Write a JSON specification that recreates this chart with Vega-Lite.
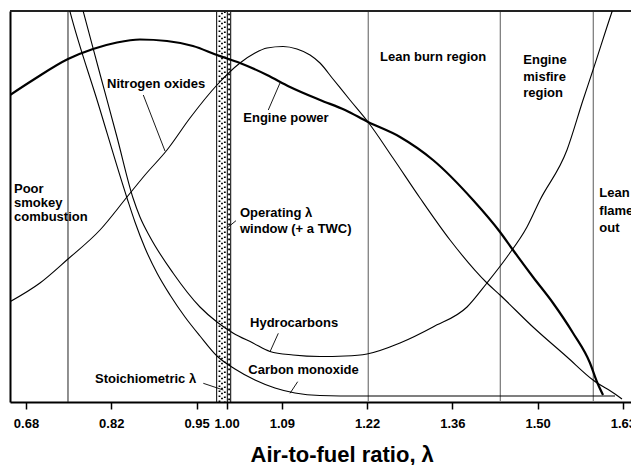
{
  "$schema": "https://vega.github.io/schema/vega-lite/v6.json",
  "width": 621,
  "height": 391,
  "autosize": {"type": "none"},
  "padding": {"left": 10, "top": 11, "right": 0, "bottom": 63},
  "background": "white",
  "config": {
    "view": {"stroke": null},
    "font": "Liberation Sans",
    "text": {"font": "Liberation Sans", "fontWeight": "bold", "fontSize": 13, "align": "left", "baseline": "middle", "color": "#000"}
  },
  "datasets": {
    "curves": [
      {"series": "power", "x": 0.6545, "y": 307}, {"series": "power", "x": 0.6912, "y": 322}, {"series": "power", "x": 0.7470, "y": 343}, {"series": "power", "x": 0.7869, "y": 353}, {"series": "power", "x": 0.8251, "y": 359.5}, {"series": "power", "x": 0.8618, "y": 362.5}, {"series": "power", "x": 0.9049, "y": 361}, {"series": "power", "x": 0.9463, "y": 356}, {"series": "power", "x": 0.9846, "y": 347}, {"series": "power", "x": 1.0213, "y": 339}, {"series": "power", "x": 1.0644, "y": 327}, {"series": "power", "x": 1.1011, "y": 315}, {"series": "power", "x": 1.1489, "y": 302}, {"series": "power", "x": 1.1888, "y": 292}, {"series": "power", "x": 1.2255, "y": 280}, {"series": "power", "x": 1.2765, "y": 265}, {"series": "power", "x": 1.3291, "y": 242}, {"series": "power", "x": 1.3929, "y": 202}, {"series": "power", "x": 1.4360, "y": 170}, {"series": "power", "x": 1.4567, "y": 152}, {"series": "power", "x": 1.4886, "y": 125}, {"series": "power", "x": 1.5205, "y": 99}, {"series": "power", "x": 1.5524, "y": 69}, {"series": "power", "x": 1.5795, "y": 39}, {"series": "power", "x": 1.5907, "y": 20}, {"series": "power", "x": 1.6003, "y": 7},
      {"series": "nox", "x": 0.6545, "y": 100.3}, {"series": "nox", "x": 0.7023, "y": 119}, {"series": "nox", "x": 0.7470, "y": 143}, {"series": "nox", "x": 0.7980, "y": 172}, {"series": "nox", "x": 0.8411, "y": 205}, {"series": "nox", "x": 0.8698, "y": 227}, {"series": "nox", "x": 0.9049, "y": 252}, {"series": "nox", "x": 0.9416, "y": 284}, {"series": "nox", "x": 0.9846, "y": 317}, {"series": "nox", "x": 1.0213, "y": 339}, {"series": "nox", "x": 1.0452, "y": 349}, {"series": "nox", "x": 1.0644, "y": 354}, {"series": "nox", "x": 1.0899, "y": 355.5}, {"series": "nox", "x": 1.1122, "y": 353}, {"series": "nox", "x": 1.1330, "y": 347}, {"series": "nox", "x": 1.1489, "y": 339}, {"series": "nox", "x": 1.1696, "y": 323}, {"series": "nox", "x": 1.1967, "y": 302}, {"series": "nox", "x": 1.2255, "y": 280}, {"series": "nox", "x": 1.2653, "y": 244}, {"series": "nox", "x": 1.3084, "y": 204}, {"series": "nox", "x": 1.3563, "y": 162}, {"series": "nox", "x": 1.4152, "y": 119}, {"series": "nox", "x": 1.4360, "y": 107}, {"series": "nox", "x": 1.4886, "y": 75}, {"series": "nox", "x": 1.5429, "y": 45}, {"series": "nox", "x": 1.5843, "y": 22}, {"series": "nox", "x": 1.6194, "y": 8}, {"series": "nox", "x": 1.6305, "y": 3},
      {"series": "hc", "x": 0.7629, "y": 410}, {"series": "hc", "x": 0.7714, "y": 390.3}, {"series": "hc", "x": 0.7980, "y": 328}, {"series": "hc", "x": 0.8251, "y": 265}, {"series": "hc", "x": 0.8507, "y": 204}, {"series": "hc", "x": 0.8618, "y": 185}, {"series": "hc", "x": 0.8778, "y": 165}, {"series": "hc", "x": 0.9145, "y": 129}, {"series": "hc", "x": 0.9575, "y": 95}, {"series": "hc", "x": 0.9846, "y": 80}, {"series": "hc", "x": 1.0101, "y": 69}, {"series": "hc", "x": 1.0420, "y": 59}, {"series": "hc", "x": 1.0692, "y": 50.5}, {"series": "hc", "x": 1.1058, "y": 47}, {"series": "hc", "x": 1.1489, "y": 45.5}, {"series": "hc", "x": 1.1888, "y": 46}, {"series": "hc", "x": 1.2239, "y": 48}, {"series": "hc", "x": 1.2765, "y": 59}, {"series": "hc", "x": 1.3291, "y": 75}, {"series": "hc", "x": 1.3834, "y": 95}, {"series": "hc", "x": 1.4152, "y": 119}, {"series": "hc", "x": 1.4471, "y": 145}, {"series": "hc", "x": 1.4790, "y": 175}, {"series": "hc", "x": 1.4998, "y": 202}, {"series": "hc", "x": 1.5428, "y": 252}, {"series": "hc", "x": 1.5684, "y": 302}, {"series": "hc", "x": 1.5843, "y": 332}, {"series": "hc", "x": 1.6146, "y": 390.3}, {"series": "hc", "x": 1.6210, "y": 402},
      {"series": "co", "x": 0.7422, "y": 410}, {"series": "co", "x": 0.7502, "y": 390.3}, {"series": "co", "x": 0.7948, "y": 299}, {"series": "co", "x": 0.8411, "y": 204}, {"series": "co", "x": 0.8538, "y": 180}, {"series": "co", "x": 0.8698, "y": 154}, {"series": "co", "x": 0.8889, "y": 129}, {"series": "co", "x": 0.9097, "y": 107}, {"series": "co", "x": 0.9336, "y": 85}, {"series": "co", "x": 0.9575, "y": 66}, {"series": "co", "x": 0.9846, "y": 46}, {"series": "co", "x": 1.0133, "y": 33}, {"series": "co", "x": 1.0452, "y": 22}, {"series": "co", "x": 1.0771, "y": 14}, {"series": "co", "x": 1.1090, "y": 9}, {"series": "co", "x": 1.1489, "y": 6.5}, {"series": "co", "x": 1.2127, "y": 6}, {"series": "co", "x": 1.6194, "y": 6}
    ],
    "boundaries": [
      {"x": 0.7470, "kind": "dark"},
      {"x": 1.2259, "kind": "grey"},
      {"x": 1.4365, "kind": "grey"},
      {"x": 1.5848, "kind": "grey"}
    ],
    "band": [{"x": 0.9841, "x2": 1.0065}],
    "labels": [
      {"x": 0.8092, "y": 318, "text": "Nitrogen oxides"},
      {"x": 1.0266, "y": 284, "text": "Engine power"},
      {"x": 1.2446, "y": 344.7, "text": "Lean burn region"},
      {"x": 1.4731, "y": 342, "text": "Engine"},
      {"x": 1.4731, "y": 325.3, "text": "misfire"},
      {"x": 1.4731, "y": 308.7, "text": "region"},
      {"x": 1.5944, "y": 208.7, "text": "Lean"},
      {"x": 1.5944, "y": 191.5, "text": "flame"},
      {"x": 1.5944, "y": 174, "text": "out"},
      {"x": 0.6609, "y": 213, "text": "Poor"},
      {"x": 0.6609, "y": 199, "text": "smokey"},
      {"x": 0.6609, "y": 185, "text": "combustion"},
      {"x": 1.0213, "y": 188.7, "text": "Operating  λ"},
      {"x": 1.0213, "y": 172.7, "text": "window (+ a TWC)"},
      {"x": 1.0373, "y": 78.7, "text": "Hydrocarbons"},
      {"x": 1.0345, "y": 32, "text": "Carbon monoxide"},
      {"x": 0.7901, "y": 23, "text": "Stoichiometric  λ"}
    ],
    "leaders": [
      {"x": 0.8671, "y": 307, "x2": 0.9017, "y2": 251},
      {"x": 1.0664, "y": 292, "x2": 1.0851, "y2": 319},
      {"x": 1.0149, "y": 181.3, "x2": 1.0001, "y2": 173.7},
      {"x": 1.0692, "y": 50.3, "x2": 1.0824, "y2": 68.7},
      {"x": 1.1011, "y": 8.7, "x2": 1.1133, "y2": 20.3},
      {"x": 0.9628, "y": 18.7, "x2": 0.9947, "y2": 12}
    ]
  },
  "layer": [
    {
      "data": {"name": "band"},
      "mark": {"type": "rect", "fill": "white", "stroke": "#000", "strokeWidth": 1},
      "encoding": {
        "x": {
          "field": "x", "type": "quantitative",
          "scale": {"domain": [0.6545, 1.6449], "nice": false, "zero": false},
          "axis": {
            "values": [0.68, 0.816, 0.952, 1.0, 1.088, 1.224, 1.36, 1.496, 1.632],
            "labelExpr": "format(round(datum.value*100)/100, '.2f')",
            "title": "Air-to-fuel ratio, λ",
            "grid": false,
            "domainColor": "#000", "domainWidth": 2,
            "tickColor": "#000", "tickWidth": 1.5, "tickSize": 7,
            "labelFont": "Liberation Sans", "labelFontSize": 13, "labelFontWeight": "bold", "labelColor": "#000",
            "labelPadding": 8, "labelFlush": false, "labelOverlap": false,
            "titleFont": "Liberation Sans", "titleFontSize": 22, "titleFontWeight": "bold", "titleColor": "#000",
            "titleAlign": "left", "titleAnchor": null, "titleX": 240, "titleY": 59, "titleBaseline": "alphabetic"
          }
        },
        "x2": {"field": "x2"},
        "y": {
          "datum": 0, "type": "quantitative",
          "scale": {"domain": [0, 391], "nice": false, "zero": false},
          "axis": {"orient": "left", "ticks": false, "labels": false, "title": null, "grid": false, "domainColor": "#000", "domainWidth": 2}
        },
        "y2": {"datum": 391}
      }
    },
    {
      "data": {"values": [{"x": 0.9886}]},
      "mark": {"type": "rule", "color": "#000", "strokeWidth": 1.8, "strokeDash": [1.6, 3.4], "strokeDashOffset": 0},
      "encoding": {"x": {"field": "x", "type": "quantitative"}, "y": {"datum": 0, "type": "quantitative"}, "y2": {"datum": 391}}
    },
    {
      "data": {"values": [{"x": 0.9926}]},
      "mark": {"type": "rule", "color": "#000", "strokeWidth": 1.8, "strokeDash": [1.6, 3.4], "strokeDashOffset": 2.3},
      "encoding": {"x": {"field": "x", "type": "quantitative"}, "y": {"datum": 0, "type": "quantitative"}, "y2": {"datum": 391}}
    },
    {
      "data": {"values": [{"x": 0.9971}]},
      "mark": {"type": "rule", "color": "#000", "strokeWidth": 1.8, "strokeDash": [1.6, 3.4], "strokeDashOffset": 1.1},
      "encoding": {"x": {"field": "x", "type": "quantitative"}, "y": {"datum": 0, "type": "quantitative"}, "y2": {"datum": 391}}
    },
    {
      "data": {"values": [{"x": 1.0039}]},
      "mark": {"type": "rule", "color": "#000", "strokeWidth": 1.8, "strokeDash": [1.6, 3.4], "strokeDashOffset": 3.2},
      "encoding": {"x": {"field": "x", "type": "quantitative"}, "y": {"datum": 0, "type": "quantitative"}, "y2": {"datum": 391}}
    },
    {
      "data": {"values": [{"x": 1.0011}]},
      "mark": {"type": "rule", "color": "#000", "strokeWidth": 1},
      "encoding": {"x": {"field": "x", "type": "quantitative"}, "y": {"datum": 0, "type": "quantitative"}, "y2": {"datum": 391}}
    },
    {
      "data": {"name": "boundaries"},
      "transform": [{"filter": "datum.kind === 'dark'"}],
      "mark": {"type": "rule", "color": "#222", "strokeWidth": 1},
      "encoding": {"x": {"field": "x", "type": "quantitative"}, "y": {"datum": 0, "type": "quantitative"}, "y2": {"datum": 391}}
    },
    {
      "data": {"name": "boundaries"},
      "transform": [{"filter": "datum.kind === 'grey'"}],
      "mark": {"type": "rule", "color": "#808080", "strokeWidth": 1.3},
      "encoding": {"x": {"field": "x", "type": "quantitative"}, "y": {"datum": 0, "type": "quantitative"}, "y2": {"datum": 391}}
    },
    {
      "data": {"values": [{"x": 0.6545, "x2": 1.6449}]},
      "mark": {"type": "rule", "color": "#222", "strokeWidth": 2},
      "encoding": {"x": {"field": "x", "type": "quantitative"}, "x2": {"field": "x2"}, "y": {"datum": 391, "type": "quantitative"}}
    },
    {
      "data": {"name": "curves"},
      "transform": [{"filter": "datum.series !== 'power'"}],
      "mark": {"type": "line", "color": "#000", "strokeWidth": 1.1, "interpolate": "monotone", "clip": true},
      "encoding": {
        "x": {"field": "x", "type": "quantitative"},
        "y": {"field": "y", "type": "quantitative"},
        "detail": {"field": "series"}
      }
    },
    {
      "data": {"name": "curves"},
      "transform": [{"filter": "datum.series === 'power'"}],
      "mark": {"type": "line", "color": "#000", "strokeWidth": 2.2, "interpolate": "monotone", "clip": true},
      "encoding": {"x": {"field": "x", "type": "quantitative"}, "y": {"field": "y", "type": "quantitative"}}
    },
    {
      "data": {"name": "leaders"},
      "mark": {"type": "rule", "color": "#000", "strokeWidth": 0.9},
      "encoding": {"x": {"field": "x", "type": "quantitative"}, "y": {"field": "y", "type": "quantitative"}, "x2": {"field": "x2"}, "y2": {"field": "y2"}}
    },
    {
      "data": {"name": "labels"},
      "mark": {"type": "text"},
      "encoding": {"x": {"field": "x", "type": "quantitative"}, "y": {"field": "y", "type": "quantitative"}, "text": {"field": "text"}}
    }
  ]
}
